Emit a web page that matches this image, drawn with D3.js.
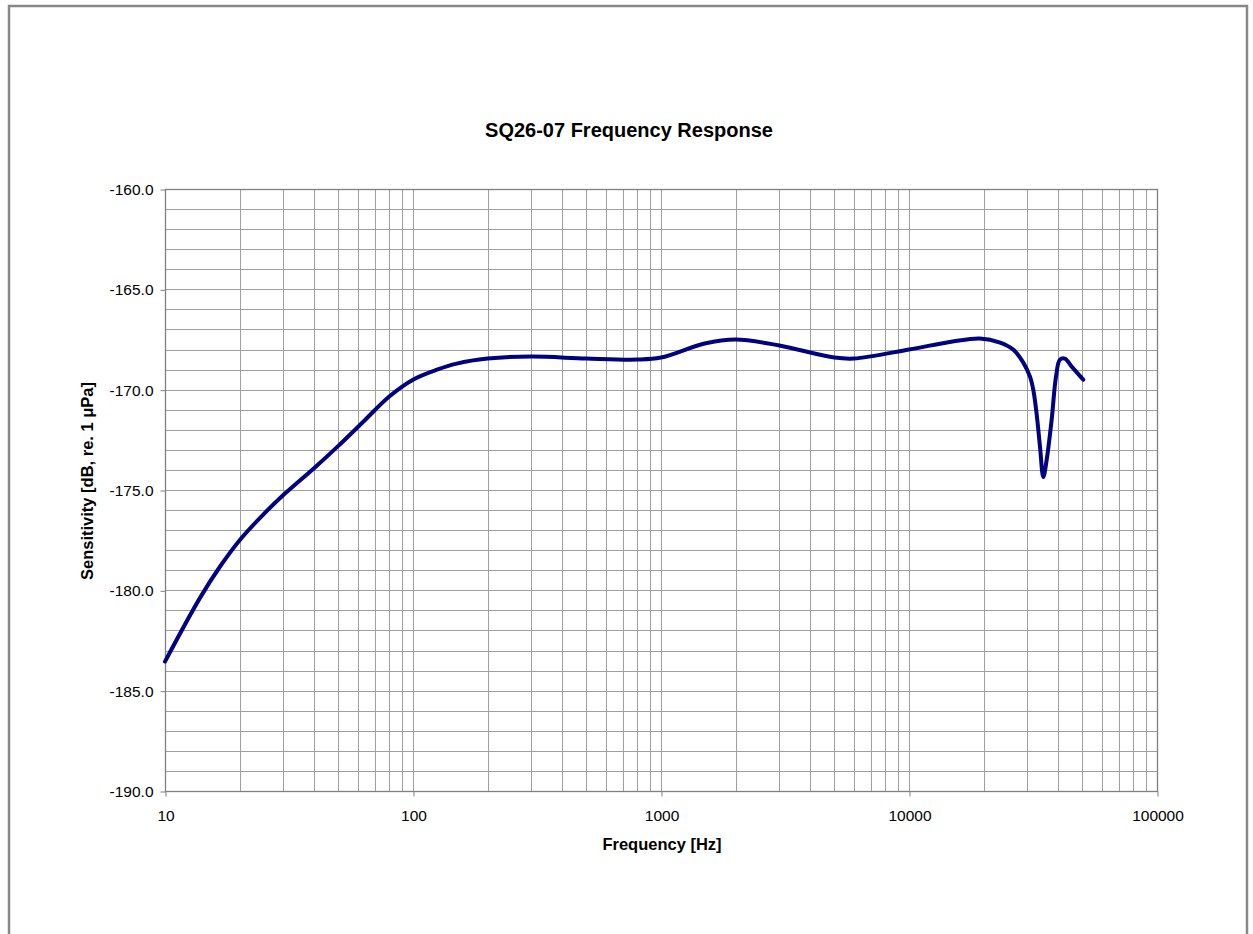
<!DOCTYPE html>
<html>
<head>
<meta charset="utf-8">
<script src="https://cdn.jsdelivr.net/npm/d3@7"></script>
<style>
  body { margin: 0; background: #fff; }
  text { font-family: Arial, "Liberation Sans", sans-serif; fill: #000; }
</style>
</head>
<body>
<div id="chart"></div>
<script>
// Data
let freqs = [10, 13.8, 16.7, 20, 25, 30, 40, 50, 63, 80, 100, 125, 150, 200, 300, 500, 800, 1000, 1500, 2000, 3000, 5000, 6000, 10000, 15000, 19300, 23300, 26300, 28900, 30750, 31700, 32700, 33750, 34800, 35900, 37600, 39150, 40600, 42500, 45300, 50400];
let sens = [-183.55, -180.4, -178.8, -177.5, -176.2, -175.25, -173.9, -172.8, -171.6, -170.35, -169.5, -169.0, -168.7, -168.45, -168.35, -168.45, -168.5, -168.4, -167.7, -167.5, -167.8, -168.4, -168.45, -168.0, -167.6, -167.45, -167.65, -168.0, -168.65, -169.35, -170.0, -171.2, -172.85, -174.35, -173.5, -171.5, -169.35, -168.5, -168.45, -168.85, -169.5];
let xTicks = [10, 100, 1000, 10000, 100000];
let yTicks = [-190, -185, -180, -175, -170, -165, -160];

let svgWidth = 1253;
let svgHeight = 934;

let margin = { top: 189, right: 96, bottom: 143, left: 165 };
let width = svgWidth - margin.left - margin.right;
let height = svgHeight - margin.top - margin.bottom;

let svg = d3.select("#chart")
  .append("svg")
  .attr("width", svgWidth)
  .attr("height", svgHeight);

// outer frame
svg.append("path")
  .attr("d", `M9,${svgHeight} V6 H1247 V${svgHeight}`)
  .attr("fill", "none")
  .attr("stroke", "#888")
  .attr("stroke-width", 2.5);

let chartGroup = svg.append("g")
  .attr("transform", `translate(${margin.left}, ${margin.top})`);

let xScale = d3.scaleLog().domain([10, 100000]).range([0, width]);
let yScale = d3.scaleLinear().domain([-190, -160]).range([height, 0]);

// grid lines: every 1 dB, and 1..9 per decade
let yGrid = d3.range(-189, -159, 1);
let xGrid = [];
for (let d = 10; d < 100000; d *= 10) {
  for (let m = 2; m <= 9; m++) xGrid.push(d * m);
}
xGrid = xGrid.concat([100, 1000, 10000]);

chartGroup.append("g").selectAll("line.h")
  .data(yGrid)
  .enter()
  .append("line")
  .attr("x1", 0)
  .attr("x2", width)
  .attr("y1", d => Math.round(yScale(d)) + 0.5)
  .attr("y2", d => Math.round(yScale(d)) + 0.5)
  .attr("stroke", "#a0a0a0")
  .attr("stroke-width", 1);

chartGroup.append("g").selectAll("line.v")
  .data(xGrid)
  .enter()
  .append("line")
  .attr("x1", d => Math.round(xScale(d)) + 0.5)
  .attr("x2", d => Math.round(xScale(d)) + 0.5)
  .attr("y1", 0)
  .attr("y2", height)
  .attr("stroke", "#a0a0a0")
  .attr("stroke-width", 1);

// plot border
chartGroup.append("rect")
  .attr("x", 0.5)
  .attr("y", 0.5)
  .attr("width", width)
  .attr("height", height)
  .attr("fill", "none")
  .attr("stroke", "#808080")
  .attr("stroke-width", 1.3);

// axes
let bottomAxis = d3.axisBottom(xScale)
  .tickValues(xTicks)
  .tickFormat(d3.format("d"))
  .tickSize(5)
  .tickPadding(13);
let leftAxis = d3.axisLeft(yScale)
  .tickValues(yTicks)
  .tickFormat(d3.format(".1f"))
  .tickSize(5)
  .tickPadding(7);

let xAxis = chartGroup.append("g")
  .attr("transform", `translate(0.5, ${height + 0.5})`)
  .call(bottomAxis);
let yAxis = chartGroup.append("g")
  .attr("transform", "translate(0.5, 0.5)")
  .call(leftAxis);

[xAxis, yAxis].forEach(a => {
  a.select(".domain").remove();
  a.selectAll(".tick line").attr("stroke", "#808080");
  a.selectAll(".tick text")
    .style("font-family", "Arial, 'Liberation Sans', sans-serif")
    .style("font-size", "15.5px")
    .attr("fill", "#000");
});
yAxis.selectAll(".tick text").text(d => d3.format(".1f")(d).replace("\u2212", "-"));

// response curve
let line = d3.line()
  .x(d => xScale(d[0]))
  .y(d => yScale(d[1]))
  .curve(d3.curveCatmullRom.alpha(0.5));

chartGroup.append("path")
  .datum(freqs.map((f, i) => [f, sens[i]]))
  .attr("d", line)
  .attr("fill", "none")
  .attr("stroke", "#000080")
  .attr("stroke-width", 4)
  .attr("stroke-linejoin", "round")
  .attr("stroke-linecap", "round");

// title and axis labels
svg.append("text")
  .attr("x", 629)
  .attr("y", 137)
  .attr("text-anchor", "middle")
  .style("font-size", "20px")
  .style("font-weight", "bold")
  .text("SQ26-07 Frequency Response");

svg.append("text")
  .attr("x", 662)
  .attr("y", 850)
  .attr("text-anchor", "middle")
  .style("font-size", "16.5px")
  .style("font-weight", "bold")
  .text("Frequency [Hz]");

svg.append("text")
  .attr("transform", "translate(93, 481) rotate(-90)")
  .attr("text-anchor", "middle")
  .style("font-size", "16.5px")
  .style("font-weight", "bold")
  .text("Sensitivity [dB, re. 1 \u03BCPa]");
</script>
</body>
</html>
